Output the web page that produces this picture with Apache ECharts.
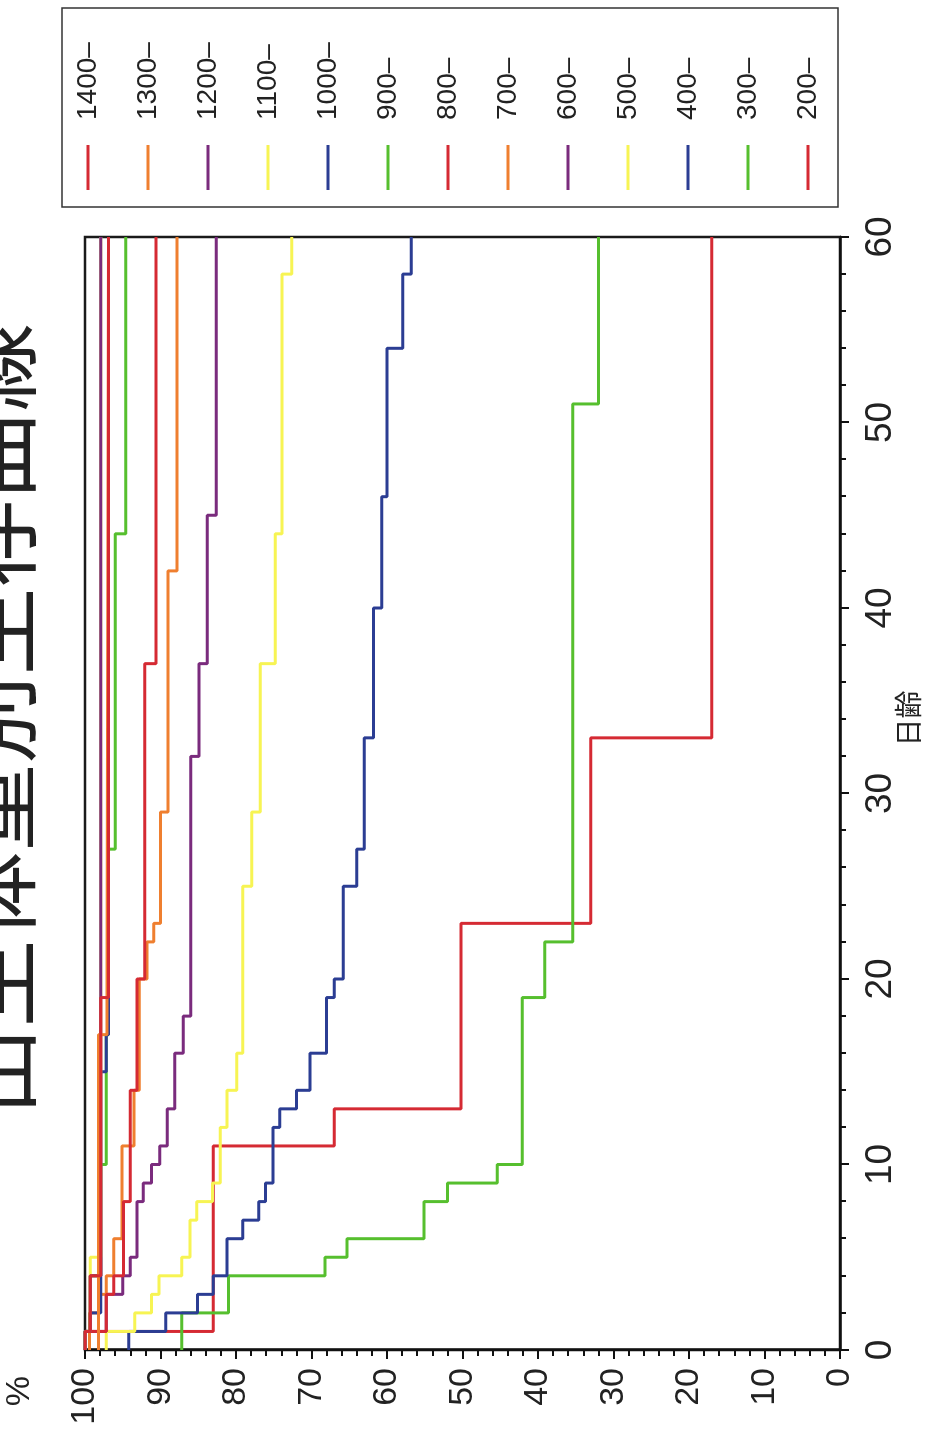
<!DOCTYPE html>
<html>
<head>
<meta charset="utf-8">
<script src="https://cdn.jsdelivr.net/npm/echarts@6/dist/echarts.min.js"></script>
<style>
  html, body { margin: 0; padding: 0; background: #fff; overflow: hidden; }
  #page { position: relative; width: 926px; height: 1439px; overflow: hidden; }
  /* the chart is drawn landscape and turned a quarter turn to the left */
  #chart {
    position: absolute; left: 0; top: 0;
    width: 1439px; height: 926px;
    transform-origin: 0 0;
    transform: translateY(1439px) rotate(-90deg);
  }
</style>
</head>
<body>
<div id="page"><div id="chart"></div></div>
<script>
// 出生体重別 生存率 (%), [日齢, %]
const groups = ['1400–', '1300–', '1200–', '1100–', '1000–', '900–', '800–', '700–', '600–', '500–', '400–', '300–', '200–'];
const colors = ['#d52a33', '#ef7f2f', '#7a2b7d', '#f7f453', '#2b3d93', '#56bf2e',
                '#d52a33', '#ef7f2f', '#7a2b7d', '#f7f453', '#2b3d93', '#56bf2e', '#d52a33'];

const g1400 = [[0, 100], [1, 99.3], [4, 97.9], [19, 96.9], [60, 96.9]];
const g1300 = [[0, 98.2], [17, 97.1], [19, 96.9], [60, 96.9]];
const g1200 = [[0, 100], [1, 99.3], [4, 97.9], [60, 97.9]];
const g1100 = [[0, 100], [1, 99.3], [5, 97.9], [60, 97.9]];
const g1000 = [[0, 100], [1, 99.3], [2, 97.9], [15, 97.2], [17, 96.9], [60, 96.9]];
const g900 = [[0, 100], [1, 99.3], [4, 97.9], [10, 97.2], [17, 96.9], [27, 96.0], [44, 94.6], [60, 94.6]];
const g800 = [[0, 100], [1, 97.2], [3, 96.2], [4, 94.9], [8, 94.0], [14, 93.1], [20, 92.1], [37, 90.6], [60, 90.6]];
const g700 = [[0, 99.4], [2, 98.1], [3, 97.2], [4, 96.2], [6, 95.1], [11, 93.5], [14, 92.8], [20, 91.8],
              [22, 90.9], [23, 90.0], [29, 89.0], [42, 87.8], [60, 87.8]];
const g600 = [[0, 100], [1, 97.2], [3, 95.0], [4, 94.0], [5, 93.1], [8, 92.3], [9, 91.2], [10, 90.1],
              [11, 89.1], [13, 88.1], [16, 87.0], [18, 86.0], [32, 84.9], [37, 83.8], [45, 82.6], [60, 82.6]];
const g500 = [[0, 97.2], [1, 93.4], [2, 91.2], [3, 90.2], [4, 87.2], [5, 86.1], [7, 85.2], [8, 83.1],
              [9, 82.1], [12, 81.2], [14, 79.9], [16, 79.1], [25, 77.9], [29, 76.8], [37, 74.8],
              [44, 73.9], [58, 72.6], [60, 72.6]];
const g400 = [[0, 94.2], [1, 89.3], [2, 85.1], [3, 83.0], [4, 81.2], [6, 79.1], [7, 77.0], [8, 76.1],
              [9, 75.1], [12, 74.2], [13, 72.0], [14, 70.2], [16, 68.0], [19, 67.0], [20, 65.8],
              [25, 64.0], [27, 63.0], [33, 61.8], [40, 60.7], [46, 60.0], [54, 57.9], [58, 56.8], [60, 56.8]];
const g300 = [[0, 87.2], [2, 81.0], [4, 68.2], [5, 65.3], [6, 55.1], [8, 52.0], [9, 45.4], [10, 42.1],
              [19, 39.1], [22, 35.4], [51, 32.0], [60, 32.0]];
const g200 = [[0, 100], [1, 83.0], [11, 67.0], [13, 50.2], [23, 33.0], [33, 17.0], [60, 17.0]];

const curves = [g1400, g1300, g1200, g1100, g1000, g900, g800, g700, g600, g500, g400, g300, g200];

const myChart = echarts.init(document.getElementById('chart'));

// lighter groups are drawn first so the heavier ones sit on top
const series = groups.map((name, i) => ({
  name: name,
  type: 'line',
  step: 'end',
  showSymbol: false,
  silent: true,
  color: colors[i],
  lineStyle: { color: colors[i], width: 3 },
  data: curves[i]
})).reverse();

myChart.setOption({
  backgroundColor: '#fff',
  animation: false,
  title: {
    text: '出生体重別生存曲線',
    left: 'center',
    top: -54,
    textStyle: {
      fontFamily: 'Noto Sans CJK JP',
      fontSize: 88,
      fontWeight: 'normal',
      color: '#222'
    }
  },
  grid: {
    left: 89,
    right: 237,
    top: 85,
    bottom: 86,
    containLabel: false,
    outerBoundsMode: 'none',
    show: true,
    borderColor: '#1a1a1a',
    borderWidth: 2.5
  },
  legend: {
    orient: 'vertical',
    left: 1249,
    top: 73,
    padding: 0,
    itemGap: 30,
    itemWidth: 45,
    itemHeight: 3,
    icon: 'rect',
    data: groups,
    textStyle: {
      fontFamily: 'Liberation Sans, Arial',
      fontSize: 28,
      color: '#222',
      lineHeight: 30,
      padding: [0, 0, 0, 20]
    }
  },
  graphic: [{
    type: 'rect',
    shape: { x: 1232, y: 62, width: 199, height: 776 },
    style: { fill: 'none', stroke: '#333', lineWidth: 1.5 }
  }],
  xAxis: {
    type: 'value',
    min: 0,
    max: 60,
    interval: 10,
    name: '日齢',
    nameLocation: 'middle',
    nameGap: 54,
    nameMoveOverlap: false,
    nameTextStyle: {
      fontFamily: 'Noto Sans CJK JP',
      fontSize: 28,
      color: '#222',
      padding: [0, 0, 0, 150]
    },
    axisLine: { show: true, lineStyle: { color: '#111', width: 2.5 } },
    axisTick: { show: true, length: 9, lineStyle: { color: '#111', width: 2 } },
    minorTick: { show: true, splitNumber: 5, length: 6, lineStyle: { color: '#111', width: 2 } },
    splitLine: { show: false },
    axisLabel: {
      margin: 22,
      fontFamily: 'Liberation Sans Narrow, Arial Narrow, Liberation Sans',
      fontSize: 37,
      color: '#222'
    }
  },
  yAxis: {
    type: 'value',
    min: 0,
    max: 100,
    interval: 10,
    name: '%',
    nameLocation: 'end',
    nameGap: 48,
    nameMoveOverlap: false,
    nameTextStyle: {
      fontFamily: 'Liberation Sans, Arial',
      fontSize: 34,
      color: '#222',
      align: 'right',
      padding: [0, 26, 0, 0]
    },
    axisLine: { show: true, lineStyle: { color: '#111', width: 2.5 } },
    axisTick: { show: true, length: 9, lineStyle: { color: '#111', width: 2 } },
    minorTick: { show: true, splitNumber: 5, length: 6, lineStyle: { color: '#111', width: 2 } },
    splitLine: { show: false },
    axisLabel: {
      margin: 18,
      fontFamily: 'Liberation Sans, Arial',
      fontSize: 34,
      color: '#222'
    }
  },
  series: series
});
</script>
</body>
</html>
